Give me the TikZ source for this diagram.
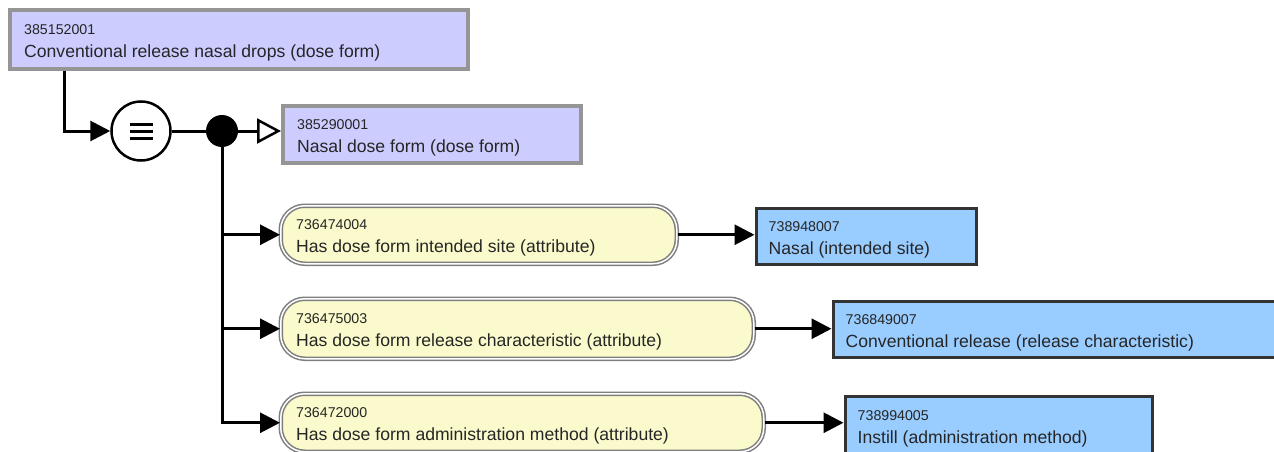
\documentclass[tikz,border=0pt]{standalone}
\usepackage{fontspec}
\setmainfont{Liberation Sans}
\usetikzlibrary{arrows.meta,calc}
\definecolor{lavfill}{HTML}{CCCCFF}
\definecolor{lavdraw}{HTML}{959595}
\definecolor{yelfill}{HTML}{FAFACC}
\definecolor{yeldraw}{HTML}{7E7E7E}
\definecolor{bluefill}{HTML}{99CCFF}
\definecolor{bluedraw}{HTML}{333333}
\tikzset{
  lavbox/.style={draw=lavdraw, fill=lavfill, line width=4pt, inner sep=0pt, anchor=north west},
  yelbox/.style={draw=yeldraw, double=white, double distance=1.5pt, line width=1.5pt, fill=yelfill, rounded corners=24pt, inner sep=0pt, anchor=north west},
  bluebox/.style={draw=bluedraw, fill=bluefill, line width=3pt, inner sep=0pt, anchor=north west},
  idtext/.style={font=\fontsize{14.2}{16}\selectfont, inner sep=0pt, anchor=base west, text=black!85},
  nametext/.style={font=\fontsize{17.6}{20}\selectfont, inner sep=0pt, anchor=base west, text=black!85},
  conn/.style={line width=3pt, draw=black},
  fillarrow/.style={-{Triangle[length=20pt,width=20pt]}},
  openarrow/.style={-{Triangle[open,length=24pt,width=25pt,fill=white,line width=2.5pt]}},
}
\newcommand{\concept}[9]{%
  \node[#2, minimum width=#5, minimum height=#6] (#1) at (#3,#4) {};
  \node[idtext] (#1-id) at ($(#1.west)+(#9,-5)$) {#7};
  \node[nametext] (#1-name) at ($(#1.west)+(#9,18)$) {#8};
}
\begin{document}
\begin{tikzpicture}[x=1pt,y=-1pt]
\useasboundingbox (0,0) rectangle (1274,452);
\clip (0,0) rectangle (1274,452);
\concept{top}{lavbox}{8}{8}{458}{59}{385152001}{Conventional release nasal drops (dose form)}{16}
\concept{nasal}{lavbox}{281}{104}{298}{57}{385290001}{Nasal dose form (dose form)}{16}
\concept{a1}{yelbox}{280}{205}{396}{58}{736474004}{Has dose form intended site (attribute)}{16}
\concept{a2}{yelbox}{280}{298}{473}{60}{736475003}{Has dose form release characteristic (attribute)}{16}
\concept{a3}{yelbox}{280}{393}{483}{58}{736472000}{Has dose form administration method (attribute)}{16}
\concept{v1}{bluebox}{754.5}{206.5}{220}{56}{738948007}{Nasal (intended site)}{14}
\concept{v2}{bluebox}{831.5}{299.5}{450}{56}{736849007}{Conventional release (release characteristic)}{14}
\concept{v3}{bluebox}{843.5}{394.5}{307}{58}{738994005}{Instill (administration method)}{14}
\node[circle, draw, line width=2.5pt, fill=white, minimum size=59pt, inner sep=0pt] (eq) at (141,131) {};
\node[circle, fill=black, minimum size=32pt, inner sep=0pt] (dot) at (222,131) {};
\foreach \dy in {-7,0,7}{
  \draw[line width=3pt] ($(eq.center)+(-11.5,\dy)$) -- ++(23,0);
}
\draw[conn, fillarrow] ($(top.south west)+(56,0)$) |- (eq.west);
\draw[conn] (eq.east) -- (dot.west);
\draw[conn, openarrow] (dot.east) -- (dot.east -| nasal.west);
\draw[conn, fillarrow] (dot.center) |- (a1.west);
\draw[conn, fillarrow] (dot.center) |- (a2.west);
\draw[conn, fillarrow] (dot.center) |- (a3.west);
\draw[conn, fillarrow] (a1.east) -- (a1.east -| v1.west);
\draw[conn, fillarrow] (a2.east) -- (a2.east -| v2.west);
\draw[conn, fillarrow] (a3.east) -- (a3.east -| v3.west);
\end{tikzpicture}
\end{document}
